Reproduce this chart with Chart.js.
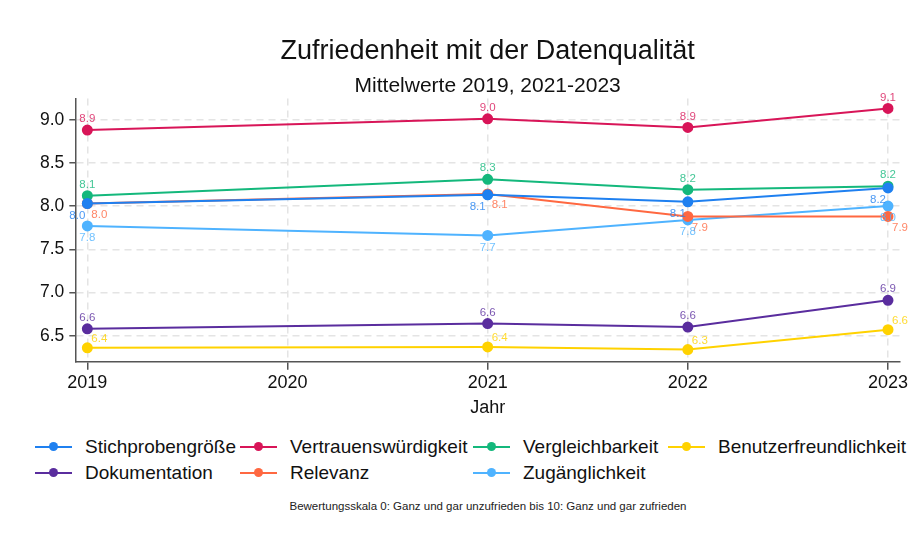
<!DOCTYPE html>
<html>
<head>
<meta charset="utf-8">
<script src="https://cdn.jsdelivr.net/npm/chart.js@4"></script>
<style>
    body { margin: 0; background: #fff; font-family: Arial, "Liberation Sans", sans-serif; }
    #wrap { position: relative; width: 920px; height: 552px; }
    #chartBox { position: absolute; left: 0; top: 0; width: 920px; height: 430px; }
    #legend {
        position: absolute; left: 35px; top: 434px;
        display: grid; grid-template-columns: 205px 233px 195px auto;
        row-gap: 0;
        font-size: 19px; color: #111;
    }
    .item { display: flex; align-items: center; height: 26px; white-space: nowrap; }
    .sym { position: relative; width: 37px; height: 2px; margin-right: 13px; }
    .sym span { position: absolute; left: 14px; top: -4px; width: 9px; height: 9px; border-radius: 50%; }
    #note { position: absolute; left: 0; width: 976px; top: 500px; text-align: center; font-size: 11.5px; color: #222; }
</style>
</head>
<body>
<div id="wrap">
    <div id="chartBox"><canvas id="lineChart"></canvas></div>
    <div id="legend"></div>
    <div id="note">Bewertungsskala 0: Ganz und gar unzufrieden bis 10: Ganz und gar zufrieden</div>
</div>
<script>
const years = [2019, 2021, 2022, 2023];
const xTicks = [2019, 2020, 2021, 2022, 2023];
const yTicks = [6.5, 7.0, 7.5, 8.0, 8.5, 9.0];

const seriesNames = ['Stichprobengröße', 'Vertrauenswürdigkeit', 'Vergleichbarkeit', 'Benutzerfreundlichkeit',
                     'Dokumentation', 'Relevanz', 'Zugänglichkeit'];
const stichprobe = [8.03, 8.13, 8.05, 8.21];
const vertrauen = [8.88, 9.01, 8.91, 9.13];
const vergleich = [8.12, 8.31, 8.19, 8.23];
const benutzer = [6.36, 6.37, 6.34, 6.57];
const doku = [6.58, 6.64, 6.60, 6.91];
const relevanz = [8.03, 8.14, 7.88, 7.88];
const zugang = [7.77, 7.66, 7.84, 8.00];

const colors = ['#1f80f0', '#d81558', '#14b87c', '#ffd200', '#5a2d9e', '#ff6841', '#4fb3ff'];
// where the value label sits relative to the point: [dx, dy]
const labelPos = [[-10, 12], [0, -11], [0, -11], [12, -9], [0, -11], [12, 11], [0, 12]];

const allValues = [stichprobe, vertrauen, vergleich, benutzer, doku, relevanz, zugang];

const valueLabels = {
    id: 'valueLabels',
    afterDatasetsDraw(chart) {
        const ctx = chart.ctx;
        ctx.save();
        ctx.font = '11.5px Arial, "Liberation Sans", sans-serif';
        ctx.textAlign = 'center';
        ctx.textBaseline = 'middle';
        chart.data.datasets.forEach((ds, i) => {
            const meta = chart.getDatasetMeta(i);
            ctx.fillStyle = ds.borderColor + 'cc';
            meta.data.forEach((pt, j) => {
                ctx.fillText(ds.data[j].y.toFixed(1), pt.x + labelPos[i][0], pt.y + labelPos[i][1]);
            });
        });
        ctx.restore();
    }
};

const datasets = seriesNames.map((name, i) => ({
    label: name,
    data: years.map((yr, j) => ({ x: yr, y: allValues[i][j] })),
    borderColor: colors[i],
    backgroundColor: colors[i],
    borderWidth: 2,
    pointRadius: 4.5,
    pointHoverRadius: 4.5,
    tension: 0
}));

const ctx = document.getElementById('lineChart').getContext('2d');
const chart = new Chart(ctx, {
    type: 'line',
    data: { datasets: datasets },
    options: {
        responsive: true,
        maintainAspectRatio: false,
        animation: false,
        layout: { padding: { top: 35, right: 20, left: 35, bottom: 11 } },
        plugins: {
            legend: { display: false },
            tooltip: { enabled: false },
            title: {
                display: true, fullSize: false,
                text: 'Zufriedenheit mit der Datenqualität',
                color: '#111',
                font: { size: 27, weight: 'normal', family: 'Arial, "Liberation Sans", sans-serif' },
                padding: { top: 0, bottom: 6 }
            },
            subtitle: {
                display: true, fullSize: false,
                text: 'Mittelwerte 2019, 2021-2023',
                color: '#111',
                font: { size: 21, family: 'Arial, "Liberation Sans", sans-serif' },
                padding: { top: 0, bottom: 0 }
            }
        },
        scales: {
            x: {
                type: 'linear',
                min: 2018.94,
                max: 2023.06,
                afterBuildTicks: (scale) => { scale.ticks = xTicks.map(v => ({ value: v })); },
                ticks: {
                    color: '#111', padding: 2,
                    font: { size: 18, family: 'Arial, "Liberation Sans", sans-serif' },
                    callback: (v) => String(v)
                },
                grid: { color: '#e4e4e4', lineWidth: 1.5, tickLength: 8, tickColor: '#555', tickWidth: 1.5 },
                border: { color: '#555', width: 1.5, dash: [7, 5] },
                title: {
                    display: true, text: 'Jahr', color: '#111',
                    font: { size: 18, family: 'Arial, "Liberation Sans", sans-serif' },
                    padding: { top: 2, bottom: 0 }
                }
            },
            y: {
                min: 6.198,
                max: 9.244,
                afterBuildTicks: (scale) => { scale.ticks = yTicks.map(v => ({ value: v })); },
                ticks: {
                    color: '#111', padding: 5,
                    font: { size: 17.5, family: 'Arial, "Liberation Sans", sans-serif' },
                    callback: (v) => v.toFixed(1)
                },
                grid: { color: '#e4e4e4', lineWidth: 1.5, tickLength: 6, tickColor: '#555', tickWidth: 1.5 },
                border: { color: '#555', width: 1.5, dash: [7, 5] }
            }
        }
    },
    plugins: [valueLabels]
});

// legend built from the same datasets
const legendDiv = document.getElementById('legend');
seriesNames.forEach((name, i) => {
    const item = document.createElement('div');
    item.className = 'item';
    item.innerHTML = `<div class="sym" style="background:${colors[i]}"><span style="background:${colors[i]}"></span></div>${name}`;
    legendDiv.appendChild(item);
});
</script>
</body>
</html>
